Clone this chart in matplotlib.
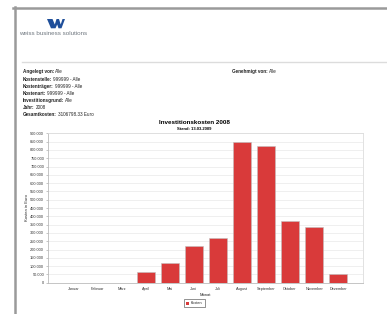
import matplotlib.pyplot as plt
from matplotlib.lines import Line2D
from matplotlib.patches import Rectangle, Polygon
from matplotlib.ticker import FuncFormatter

plt.rcParams['font.family'] = ['Liberation Sans', 'DejaVu Sans']

monate = ['Januar', 'Februar', 'März', 'April', 'Mai', 'Juni', 'Juli',
          'August', 'September', 'Oktober', 'November', 'Dezember']
kosten = [0, 0, 0, 63000, 117000, 224000, 270000,
          845000, 825000, 373000, 338000, 52000]
y_ticks = list(range(0, 900001, 50000))

info = [('Angelegt von:', 'Alle'),
        ('Kostenstelle:', '999999 - Alle'),
        ('Kostenträger:', '999999 - Alle'),
        ('Kostenart:', '999999 - Alle'),
        ('Investitionsgrund:', 'Alle'),
        ('Jahr:', '2008'),
        ('Gesamtkosten:', '3106798.33 Euro')]

W, H = 387, 314
fig = plt.figure(figsize=(W / 100, H / 100), dpi=100)


def fx(x):
    return x / W


def fy(y):
    return 1 - y / H


def label_value(x, y, lab, val):
    t = fig.text(fx(x), fy(y), lab, fontsize=3.3, fontweight='bold', color='#222222',
                 ha='left', va='center')
    fig.canvas.draw()
    bb = t.get_window_extent()
    fig.text(bb.x1 / W + fx(1.2), fy(y), val, fontsize=3.3, color='#222222',
             ha='left', va='center', fontstyle='normal')


# page frame
fig.add_artist(Line2D([fx(13), fx(387)], [fy(8), fy(8)], color='#9a9a9a', lw=1.8))
fig.add_artist(Line2D([fx(14.8), fx(14.8)], [fy(7), fy(314)], color='#9a9a9a', lw=1.8))
fig.add_artist(Line2D([fx(22), fx(387)], [fy(61.5), fy(61.5)], color='#dcdcdc', lw=1.0))

# logo
logo = [(47, 19), (52.5, 19), (54.8, 24.5), (56.5, 19), (59, 19), (60.7, 24.5),
        (62.5, 19), (65, 19), (61.5, 28.3), (58.5, 28.3), (57.2, 24.5),
        (55.5, 28.3), (51, 28.3)]
fig.add_artist(Polygon([(fx(a), fy(b)) for a, b in logo], closed=True,
                       transform=fig.transFigure, fc='#1f4f9a', ec='none'))
fig.text(fx(19.5), fy(33.5), 'weiss business solutions', color='#707880',
         fontsize=4.5, ha='left', va='center')

# header info
for i, (lab, val) in enumerate(info):
    label_value(23, 72 + i * 7.1, lab, val)
label_value(232, 72, 'Genehmigt von:', 'Alle')

# chart
fig.text(fx(194.5), fy(122.5), 'Investitionskosten 2008', fontsize=4.5,
         fontweight='bold', ha='center', va='center')
fig.text(fx(194.5), fy(129.3), 'Stand: 13.03.2009', fontsize=3.0,
         fontweight='bold', ha='center', va='center')

ax = fig.add_axes([fx(48.3), fy(282.7), fx(363.3) - fx(48.3), fy(133.3) - fy(282.7)])
x = list(range(len(monate)))
ax.bar(x, kosten, width=0.75, color='#d93a3a', edgecolor='#c0c0c0', lw=0.4, zorder=3)
ax.set_xlim(-1.05, 12.05)
ax.set_ylim(0, 900000)
ax.set_yticks(y_ticks)
ax.yaxis.set_major_formatter(FuncFormatter(
    lambda v, p: '0' if v == 0 else f'{int(v):,}'.replace(',', '.')))
ax.set_xticks(x)
ax.set_xticklabels(monate)
ax.tick_params(axis='both', labelsize=2.8, length=1.5, width=0.4, color='#999999',
               pad=1.5, labelcolor='#333333')
ax.tick_params(axis='x', length=0, pad=3)
ax.grid(axis='y', color='#ececec', lw=0.6, zorder=0)
for s in ax.spines.values():
    s.set_color('#dddddd')
    s.set_linewidth(0.6)
ax.spines['left'].set_color('#bbbbbb')
ax.spines['bottom'].set_color('#bbbbbb')
ax.set_xlabel('Monat', fontsize=3.0, labelpad=1.5, color='#222222')
ax.set_ylabel('Kosten in Euro', fontsize=3.0, labelpad=0.8, color='#222222')

# legend
fig.add_artist(Rectangle((fx(184), fy(306.7)), fx(204.5) - fx(184), fy(299) - fy(306.7),
                         transform=fig.transFigure, fill=False, ec='#666666', lw=0.5))
fig.add_artist(Rectangle((fx(185.8), fy(304.5)), fx(3), fy(301.5) - fy(304.5),
                         transform=fig.transFigure, fc='#d93a3a', ec='none'))
fig.text(fx(190.5), fy(303), 'Kosten', fontsize=2.7, ha='left', va='center', color='#222222')

fig.savefig('out.png', dpi=100)
